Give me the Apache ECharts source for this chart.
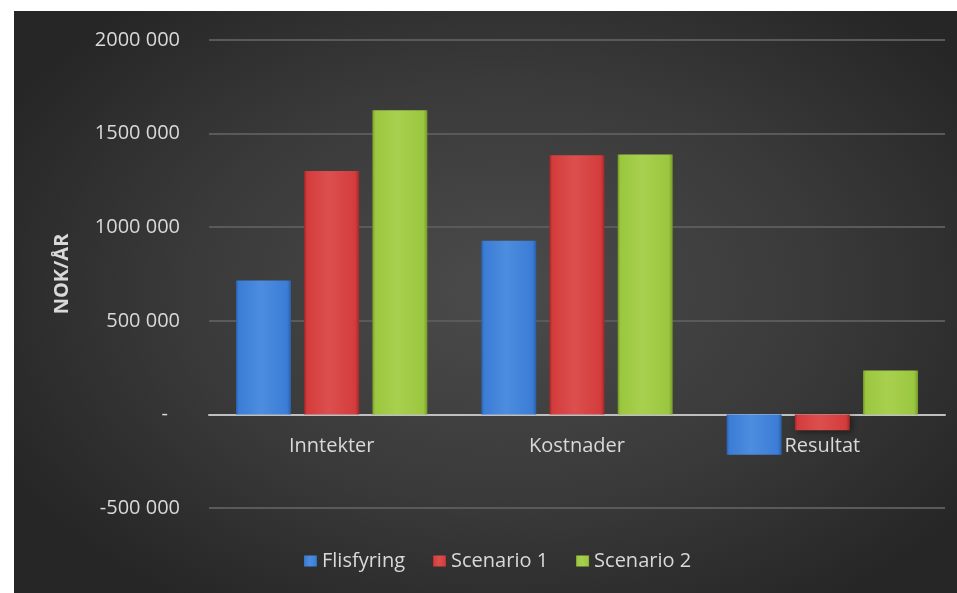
<!DOCTYPE html>
<html>
<head>
<meta charset="utf-8">
<script src="https://cdn.jsdelivr.net/npm/echarts@6/dist/echarts.min.js"></script>
<style>
  html, body { margin: 0; padding: 0; background: #ffffff; width: 957px; height: 593px; overflow: hidden; }
  #chart {
    position: absolute; left: 14px; top: 11px; width: 943px; height: 582px;
    background: radial-gradient(ellipse 60% 65% at 52% 48%, #4b4b4b 0%, #3a3a3a 55%, #262626 100%);
  }
</style>
</head>
<body>
<div id="chart"></div>
<script>
const categories = ['Inntekter', 'Kostnader', 'Resultat'];
const seriesNames = ['Flisfyring', 'Scenario 1', 'Scenario 2'];
const flisfyring = [715000, 928000, -215000];
const scenario1 = [1300000, 1385000, -85000];
const scenario2 = [1625000, 1388000, 235000];
const yTicks = { min: -500000, max: 2000000, interval: 500000 };

const palette = [
  { main: '#3b7dd6', light: '#4d8ddf', dark: '#2a5fa8' },
  { main: '#d43c3c', light: '#dc4f4f', dark: '#a02828' },
  { main: '#9bc73f', light: '#a8d04f', dark: '#75992a' }
];

function grad(p) {
  return new echarts.graphic.LinearGradient(0, 0, 1, 0, [
    { offset: 0, color: p.dark },
    { offset: 0.05, color: p.main },
    { offset: 0.45, color: p.light },
    { offset: 0.93, color: p.main },
    { offset: 1, color: p.dark }
  ]);
}

function fmt(v) {
  if (v === 0) return '{d|-}';
  const a = Math.abs(v);
  const th = Math.floor(a / 1000);
  const rest = String(a % 1000).padStart(3, '0');
  return (v < 0 ? '-' : '') + th + ' ' + rest;
}

const chart = echarts.init(document.getElementById('chart'), null, { renderer: 'canvas' });
const dataSets = [flisfyring, scenario1, scenario2];
const font = '"Open Sans", sans-serif';

const option = {
  backgroundColor: 'transparent',
  animation: false,
  color: palette.map(p => p.main),
  textStyle: { fontFamily: font },
  grid: { left: 195, right: 12, top: 29, bottom: 85, containLabel: false },
  legend: {
    data: seriesNames,
    left: 285, top: 535,
    itemWidth: 13, itemHeight: 11, itemGap: 28,
    icon: 'rect',
    textStyle: { color: '#d9d9d9', fontSize: 20, fontFamily: font }
  },
  xAxis: {
    type: 'category',
    data: categories,
    offset: 0,
    axisLine: { onZero: false, lineStyle: { color: '#bfbfbf', width: 2 } },
    axisTick: { show: false },
    axisLabel: { color: '#d9d9d9', fontSize: 20, margin: 22, fontFamily: font }
  },
  yAxis: {
    type: 'value',
    min: yTicks.min, max: yTicks.max, interval: yTicks.interval,
    name: 'NOK/ÅR',
    nameLocation: 'middle',
    nameGap: 137,
    nameTextStyle: { color: '#d9d9d9', fontSize: 20, fontWeight: 'bold', fontFamily: font },
    axisLine: { show: false },
    axisTick: { show: false },
    splitLine: { lineStyle: { color: '#5a5a5a', width: 2 } },
    axisLabel: {
      color: '#d9d9d9', fontSize: 20, margin: 29, fontFamily: font,
      formatter: fmt,
      rich: { d: { color: '#d9d9d9', fontSize: 20, fontFamily: font, padding: [0, 12, 0, 0] } }
    }
  },
  series: seriesNames.map((name, i) => ({
    name: name,
    type: 'bar',
    data: dataSets[i],
    barWidth: 55,
    barGap: '24%',
    itemStyle: {
      color: grad(palette[i]),
      shadowColor: 'rgba(0,0,0,0.45)',
      shadowBlur: 6,
      shadowOffsetX: 2,
      shadowOffsetY: 2
    }
  }))
};
chart.setOption(option);
// move the category axis (line + labels) up to the zero line of the value axis
const zeroY = chart.convertToPixel({ yAxisIndex: 0 }, 0);
const bottomY = chart.convertToPixel({ yAxisIndex: 0 }, yTicks.min);
chart.setOption({ xAxis: { offset: -(bottomY - zeroY) } });
</script>
</body>
</html>
